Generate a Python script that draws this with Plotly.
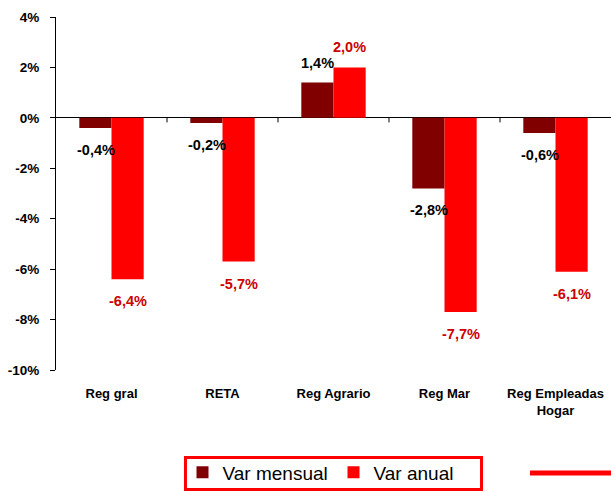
import plotly.graph_objects as go

categories = ["Reg gral", "RETA", "Reg Agrario", "Reg Mar", "Reg Empleadas<br>Hogar"]
var_mensual = [-0.4, -0.2, 1.4, -2.8, -0.6]
var_anual = [-6.4, -5.7, 2.0, -7.7, -6.1]
label_mensual = ["-0,4%", "-0,2%", "1,4%", "-2,8%", "-0,6%"]
label_anual = ["-6,4%", "-5,7%", "2,0%", "-7,7%", "-6,1%"]
y_ticks = [-10, -8, -6, -4, -2, 0, 2, 4]
y_tick_labels = ["-10%", "-8%", "-6%", "-4%", "-2%", "0%", "2%", "4%"]

DARK = "#800000"
RED = "#FF0000"
FONT = "Liberation Sans, Arial, sans-serif"

fig = go.Figure()
fig.add_trace(go.Bar(x=categories, y=var_mensual, name="Var mensual",
                     marker=dict(color=DARK, line=dict(width=0))))
fig.add_trace(go.Bar(x=categories, y=var_anual, name="Var anual",
                     marker=dict(color=RED, line=dict(width=0))))

annotations = []
for i, c in enumerate(categories):
    for vals, labs, shift, col in ((var_mensual, label_mensual, -16, "#000000"),
                                   (var_anual, label_anual, 16, "#CC0000")):
        v = vals[i]
        annotations.append(dict(
            x=c, y=v, xref="x", yref="y", text="<b>" + labs[i] + "</b>", showarrow=False,
            xshift=shift, yshift=20 if v > 0 else -22, yanchor="middle",
            font=dict(family=FONT, size=14.5, color=col)))

shapes = []
# category-separating tick marks on the zero axis line
for i in range(1, len(categories)):
    shapes.append(dict(type="line", xref="x", yref="y", x0=i - 0.5, x1=i - 0.5,
                       y0=0, y1=-0.18, line=dict(color="black", width=1)))
# legend frame
shapes.append(dict(type="rect", xref="paper", yref="paper", x0=0.2333, x1=0.7667,
                   y0=-0.3385, y1=-0.2479, line=dict(color=RED, width=3),
                   fillcolor="rgba(0,0,0,0)"))
# stray legend line to the right
shapes.append(dict(type="line", xref="paper", yref="paper", x0=0.854, x1=1.0,
                   y0=-0.2918, y1=-0.2918, line=dict(color=RED, width=5)))

fig.update_layout(
    width=611, height=493,
    margin=dict(l=56, r=0, t=17, b=123, autoexpand=False),
    paper_bgcolor="white", plot_bgcolor="white",
    barmode="group", bargap=0.42, bargroupgap=0,
    font=dict(family=FONT, color="black"),
    showlegend=True,
    legend=dict(orientation="h", x=0.5, xanchor="center", y=-0.236, yanchor="top",
                bordercolor=RED, borderwidth=0, bgcolor="rgba(0,0,0,0)",
                entrywidth=106, entrywidthmode="pixels",
                font=dict(family=FONT, size=19, color="black"),
                traceorder="normal"),
    annotations=annotations,
    shapes=shapes,
    xaxis=dict(showline=False, showgrid=False, zeroline=False, ticks="",
               automargin=False, ticklabelstandoff=14,
               tickvals=categories, ticktext=["<b>" + c + "</b>" for c in categories],
               tickfont=dict(family=FONT, size=13)),
    yaxis=dict(range=[-10, 4], tickvals=y_ticks,
               ticktext=["<b>" + t + "</b>" for t in y_tick_labels],
               automargin=False, ticklabelstandoff=8,
               showline=True, linecolor="black", linewidth=1,
               ticks="outside", ticklen=5, tickcolor="black",
               showgrid=False, zeroline=True, zerolinecolor="black", zerolinewidth=1,
               tickfont=dict(family=FONT, size=13.5)),
)

fig.write_html("out.html",
               config={"displayModeBar": False},
               post_script="document.body.style.margin='0px';document.body.style.overflow='hidden';")
